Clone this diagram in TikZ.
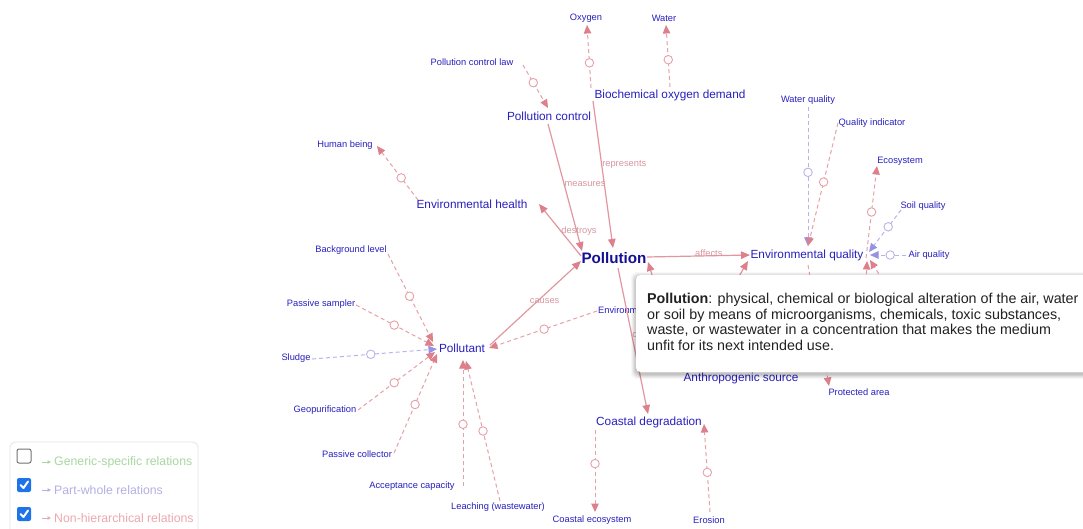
\documentclass[tikz,border=0pt]{standalone}
\usepackage{fontspec}
\setmainfont{Liberation Sans}
\usetikzlibrary{arrows.meta}
\definecolor{nodeblue}{RGB}{40,32,190}
\definecolor{polblue}{RGB}{20,16,150}
\definecolor{nhline}{RGB}{226,150,160}
\definecolor{nhdash}{RGB}{230,160,168}
\definecolor{nharrow}{RGB}{222,128,140}
\definecolor{pwline}{RGB}{184,180,234}
\definecolor{pwarrow}{RGB}{150,146,228}
\definecolor{elabc}{RGB}{216,150,160}
\definecolor{gsgreen}{RGB}{168,216,160}
\definecolor{pwtext}{RGB}{180,176,228}
\definecolor{nhtext}{RGB}{236,168,176}
\definecolor{cbblue}{RGB}{30,115,232}
\tikzset{
 mainnd/.style={font=\fontsize{11.8}{13}\selectfont, text=nodeblue, inner sep=0pt},
 leafnd/.style={font=\fontsize{9.3}{11}\selectfont, text=nodeblue, inner sep=0pt},
 bignd/.style={font=\bfseries\fontsize{15.2}{17}\selectfont, text=polblue, inner sep=0pt},
 nhsolid/.style={draw=nhline, line width=1.2pt, -{Triangle[length=9pt,width=7.5pt,color=nharrow]}},
 nhdashed/.style={draw=nhdash, line width=1pt, dash pattern=on 4pt off 3pt, -{Triangle[length=8.5pt,width=7.5pt,color=nharrow]}},
 pwdashed/.style={draw=pwline, line width=1pt, dash pattern=on 4pt off 3pt, -{Triangle[length=8.5pt,width=7.5pt,color=pwarrow]}},
 nhc/.style={circle, draw=nhdash, fill=white, solid, line width=0.9pt, minimum size=8.5pt, inner sep=0pt},
 pwc/.style={circle, draw=pwline, fill=white, solid, line width=0.9pt, minimum size=8.5pt, inner sep=0pt},
 elab/.style={font=\fontsize{9.3}{10}\selectfont, text=elabc, inner sep=0pt},
 legtext/.style={font=\fontsize{12.3}{14}\selectfont, inner sep=0pt, anchor=west},
 cbox/.style={rounded corners=2pt, line width=1pt},
}
\begin{document}
\begin{tikzpicture}[x=1pt,y=-1pt]
\useasboundingbox (0,0) rectangle (1083,529);
\fill[white] (0,0) rectangle (1083,529);

% nodes
\node[leafnd] (oxygen) at (586,18) {Oxygen};
\node[leafnd] (water) at (664,18) {Water};
\node[leafnd] (pcl) at (472,62) {Pollution control law};
\node[mainnd] (bod) at (670,95) {Biochemical oxygen demand};
\node[mainnd] (pc) at (549,116) {Pollution control};
\node[leafnd] (human) at (345,145) {Human being};
\node[mainnd] (envh) at (472,204) {Environmental health};
\node[bignd] (pollution) at (614,258) {Pollution};
\node[mainnd] (envq) at (807,255) {Environmental quality};
\node[leafnd] (wq) at (808,100) {Water quality};
\node[leafnd] (qi) at (872,123) {Quality indicator};
\node[leafnd] (eco) at (900,161) {Ecosystem};
\node[leafnd] (soil) at (923,206) {Soil quality};
\node[leafnd] (air) at (929,255) {Air quality};
\node[leafnd] (bg) at (351,250) {Background level};
\node[leafnd] (ps) at (321,304) {Passive sampler};
\node[leafnd] (sludge) at (296,358) {Sludge};
\node[mainnd] (pollutant) at (462,348) {Pollutant};
\node[leafnd] (geo) at (325,410) {Geopurification};
\node[leafnd] (pcoll) at (357,454) {Passive collector};
\node[leafnd] (acc) at (412,486) {Acceptance capacity};
\node[leafnd] (leach) at (498,507) {Leaching (wastewater)};
\node[mainnd] (cd) at (649,422) {Coastal degradation};
\node[leafnd] (ce) at (592,520) {Coastal ecosystem};
\node[leafnd] (erosion) at (709,520) {Erosion};
\node[mainnd] (anthro) at (741,378) {Anthropogenic source};
\node[leafnd] (prot) at (859,392) {Protected area};
\node[leafnd, anchor=west] (envm) at (598,310) {Environm};
\coordinate (hidA) at (905,315);
\coordinate (hidB) at (864,330);

% part-whole edges
\draw[pwdashed] ([shift={(0,7)}]wq.center) -- node[pwc,pos=.47]{} ([shift={(1,-9)}]envq.center);
\draw[pwdashed] ([shift={(-22,4)}]soil.center) -- node[pwc,pos=.40]{} ([shift={(62,-3)}]envq.center);
\draw[pwdashed] ([shift={(-23,0)}]air.center) -- node[pwc,pos=.44]{} ([shift={(63,0)}]envq.center);
\draw[pwdashed] ([shift={(16,1)}]sludge.center) -- node[pwc,pos=.47]{} ([shift={(-25,1)}]pollutant.center);

% non-hierarchical dashed edges
\draw[nhdashed] ([shift={(-79,-7)}]bod.center) -- node[nhc,pos=.40]{} ([shift={(1,7)}]oxygen.center);
\draw[nhdashed] ([shift={(0,-8)}]bod.center) -- node[nhc,pos=.44]{} ([shift={(2,7)}]water.center);
\draw[nhdashed] ([shift={(51,3)}]pcl.center) -- node[nhc,pos=.41]{} ([shift={(-1,-8)}]pc.center);
\draw[nhdashed] ([shift={(-54,-4)}]envh.center) -- node[nhc,pos=.41]{} ([shift={(32,1)}]human.center);
\draw[nhdashed] ([shift={(1,10)}]envq.center) -- node[nhc,pos=.5]{} ([shift={(-30,-6)}]prot.center);
\draw[nhdashed] ([shift={(-34,0)}]qi.center) -- node[nhc,pos=.48]{} ([shift={(1,-9)}]envq.center);
\draw[nhdashed] ([shift={(59,3)}]envq.center) -- node[nhc,pos=.5]{} ([shift={(-23,5)}]eco.center);
\draw[nhdashed] (hidB) -- ([shift={(60,6)}]envq.center);
\draw[nhdashed] (hidA) -- ([shift={(63,5)}]envq.center);
\draw[nhdashed] ([shift={(37,4)}]bg.center) -- node[nhc,pos=.48]{} ([shift={(-29,-6)}]pollutant.center);
\draw[nhdashed] ([shift={(35,1)}]ps.center) -- node[nhc,pos=.49]{} ([shift={(-28,-2)}]pollutant.center);
\draw[nhdashed] ([shift={(33,0)}]geo.center) -- node[nhc,pos=.47]{} ([shift={(-27,4)}]pollutant.center);
\draw[nhdashed] ([shift={(37,-1)}]pcoll.center) -- node[nhc,pos=.49]{} ([shift={(-25,6)}]pollutant.center);
\draw[nhdashed] ([shift={(51,0)}]acc.center) -- node[nhc,pos=.49]{} ([shift={(1,12)}]pollutant.center);
\draw[nhdashed] ([shift={(2,-6)}]leach.center) -- node[nhc,pos=.5]{} ([shift={(4,13)}]pollutant.center);
\draw[nhdashed] ([shift={(-1,1)}]envm.west) -- node[nhc,pos=.49]{} ([shift={(27,0)}]pollutant.center);
\draw[nhdashed] ([shift={(-54,8)}]cd.center) -- node[nhc,pos=.41]{} ([shift={(3,-8)}]ce.center);
\draw[nhdashed] ([shift={(1,-8)}]erosion.center) -- node[nhc,pos=.45]{} ([shift={(55,2)}]cd.center);

% non-hierarchical solid edges
\draw[nhsolid] ([shift={(-1,8)}]pc.center) -- node[elab,pos=.47,anchor=west]{measures} ([shift={(-32,-7)}]pollution.center);
\draw[nhsolid] ([shift={(-77,6)}]bod.center) -- node[elab,pos=.435,anchor=west]{represents} ([shift={(-1,-10)}]pollution.center);
\draw[nhsolid] ([shift={(-33,-2)}]pollution.center) -- node[elab,pos=.48,anchor=west]{destroys} ([shift={(67,0)}]envh.center);
\draw[nhsolid] ([shift={(33,-1)}]pollution.center) -- node[elab,pos=.6,yshift=3pt]{affects} ([shift={(-57,0)}]envq.center);
\draw[nhsolid] ([shift={(4,10)}]pollution.center) -- node[elab,pos=.46,anchor=west]{c} ([shift={(-1,-8)}]cd.center);
\draw[nhsolid] ([shift={(-58,-6)}]anthro.center) -- ([shift={(34,4)}]pollution.center);
\draw[nhsolid] ([shift={(-57,-8)}]anthro.center) -- ([shift={(-59,6)}]envq.center);
\draw[nhsolid] ([shift={(28,-3)}]pollutant.center) -- node[elab,pos=.6,yshift=-6pt]{causes} ([shift={(-33,3)}]pollution.center);

% tooltip
\foreach \e/\o in {5/0.03,4/0.04,3/0.05,2/0.06,1/0.07}{
  \fill[black,opacity=\o,rounded corners=6pt] (636-\e,275-\e+2) rectangle (1100+\e,372+\e+2);
}
\draw[white,fill=white,rounded corners=5pt] (636,275) rectangle (1100,372);
\node[anchor=north west, align=left, inner sep=0pt, text=black!87,
      font=\fontsize{14.3}{15.7}\selectfont] (tiptext) at (647,293)
 {\textbf{Pollution}: physical, chemical or biological alteration of the air, water\\
  or soil by means of microorganisms, chemicals, toxic substances,\\
  waste, or wastewater in a concentration that makes the medium\\
  unfit for its next intended use.};

% legend
\draw[draw=black!10, fill=white, rounded corners=5pt, line width=0.8pt] (10,442) rectangle (198,545);
\draw[cbox, draw=black!55, fill=white] (17,449) rectangle (31,463);
\fill[cbox, cbblue] (17,478) rectangle (31,492);
\fill[cbox, cbblue] (17,507) rectangle (31,521);
\draw[white, line width=2pt, line cap=round, line join=round] (20.5,485) -- (23.5,488) -- (28,481.5);
\draw[white, line width=2pt, line cap=round, line join=round] (20.5,514) -- (23.5,517) -- (28,510.5);
\coordinate (ga) at (42,462); \coordinate (gb) at (51,462);
\coordinate (pa) at (42,490); \coordinate (pb) at (51,490);
\coordinate (na) at (42,518); \coordinate (nb) at (51,518);
\draw[gsgreen, line width=0.8pt, -{Triangle[length=3.5pt,width=3.5pt]}] (ga) -- (gb);
\draw[pwtext, line width=0.8pt, -{Triangle[length=3.5pt,width=3.5pt]}] (pa) -- (pb);
\draw[nhtext, line width=0.8pt, -{Triangle[length=3.5pt,width=3.5pt]}] (na) -- (nb);
\node[legtext, text=gsgreen] (lg1) at (54,462) {Generic-specific relations};
\node[legtext, text=pwtext] (lg2) at (54,490) {Part-whole relations};
\node[legtext, text=nhtext] (lg3) at (54,518) {Non-hierarchical relations};
\end{tikzpicture}
\end{document}
